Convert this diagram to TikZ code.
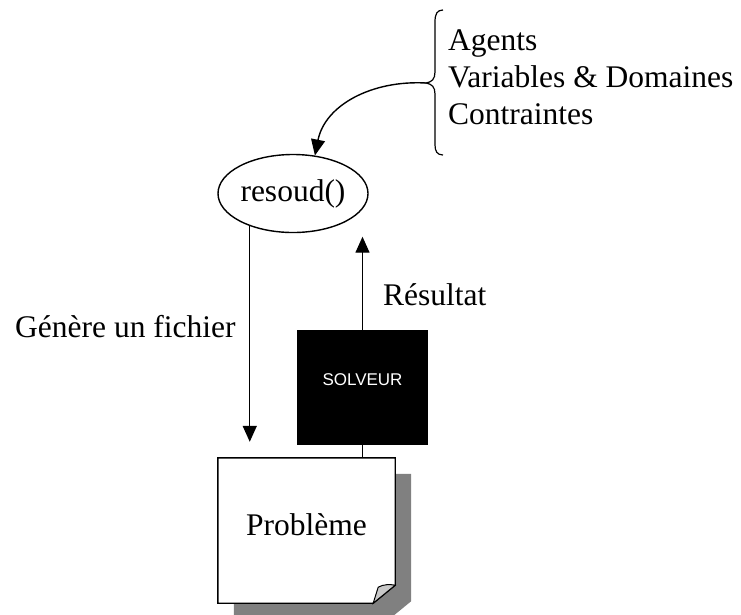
\documentclass[tikz,border=0pt]{standalone}
\usepackage{fontspec}
\setmainfont{Liberation Serif}
\newfontfamily\solvfont{Liberation Sans}
\usetikzlibrary{arrows.meta,shapes.geometric,backgrounds}
\definecolor{shadowgray}{RGB}{128,128,128}
\definecolor{flapgray}{RGB}{200,200,200}
\begin{document}
\begin{tikzpicture}[x=1pt,y=-1pt,
  every node/.style={font=\fontsize{31.5}{37}\selectfont, inner sep=0pt},
  stroke/.style={line width=1.4pt},
  arr/.style={line width=1.4pt,-{Triangle[length=16pt,width=14pt]}},
  lbl/.style={anchor=base west},
]
\useasboundingbox (0,0) rectangle (741,614);

% brace with the list of inputs
\draw[line width=1.2pt] (443,10) .. controls (437,10) and (435,14) .. (435,22)
  -- (435,72) .. controls (435,79) and (432,82) .. (426,83)
  .. controls (432,84) and (435,87) .. (435,94)
  -- (435,145) .. controls (435,151) and (437,155) .. (443,155);
\coordinate (bt) at (426,83);
\node[lbl] (agents) at (448,50) {Agents};
\node[lbl] (vars) at (448,87) {Variables \& Domaines};
\node[lbl] (cons) at (448,124) {Contraintes};

% method call
\node[ellipse, draw, stroke, minimum width=150pt, minimum height=78pt] (ell) at (293,193.5) {resoud()};

% solver
\node[fill=black, minimum width=131pt, minimum height=115pt] (solv) at (362.5,387.5) {};
\node[text=white, font=\solvfont\fontsize{17}{20}\selectfont, anchor=base] (solvtxt) at (362.5,385) {SOLVEUR};

% generated file
\node[minimum width=177pt, minimum height=145pt] (doc) at (306.5,530.5) {};
\node[anchor=base] (doctxt) at (306.5,535) {Problème};
\begin{pgfonlayer}{background}
  \fill[shadowgray] ([shift={(16,16)}]doc.north west) -- ([shift={(16,16)}]doc.north east)
    -- ([shift={(16,-2)}]doc.south east) -- ([shift={(-6,16)}]doc.south east)
    -- ([shift={(16,16)}]doc.south west) -- cycle;
  \filldraw[fill=white, stroke] (doc.north west) -- (doc.north east)
    -- ([shift={(0,-18)}]doc.south east) -- ([shift={(-22,0)}]doc.south east)
    -- (doc.south west) -- cycle;
\end{pgfonlayer}
\filldraw[fill=flapgray, line width=1pt] ([shift={(-22,0)}]doc.south east)
  -- ([shift={(-17,-16)}]doc.south east)
  .. controls ([shift={(-12,-19)}]doc.south east) and ([shift={(-5,-19)}]doc.south east)
  .. ([shift={(0,-18)}]doc.south east) -- cycle;

% connectors
\draw[arr] (bt) .. controls (372,80) and (325,105) .. (ell.60);
\draw[arr, shorten >=16pt] (ell.217.6) -- (ell.217.6 |- doc.north);
\draw[arr, shorten >=3.5pt] (solv.north) -- (solv.north |- ell.south);
\draw[stroke] (solv.south) -- (solv.south |- doc.north);

% connector labels
\node[lbl] (gen) at (15,337) {Génère un fichier};
\node[lbl] (res) at (383,305) {Résultat};
\end{tikzpicture}
\end{document}
